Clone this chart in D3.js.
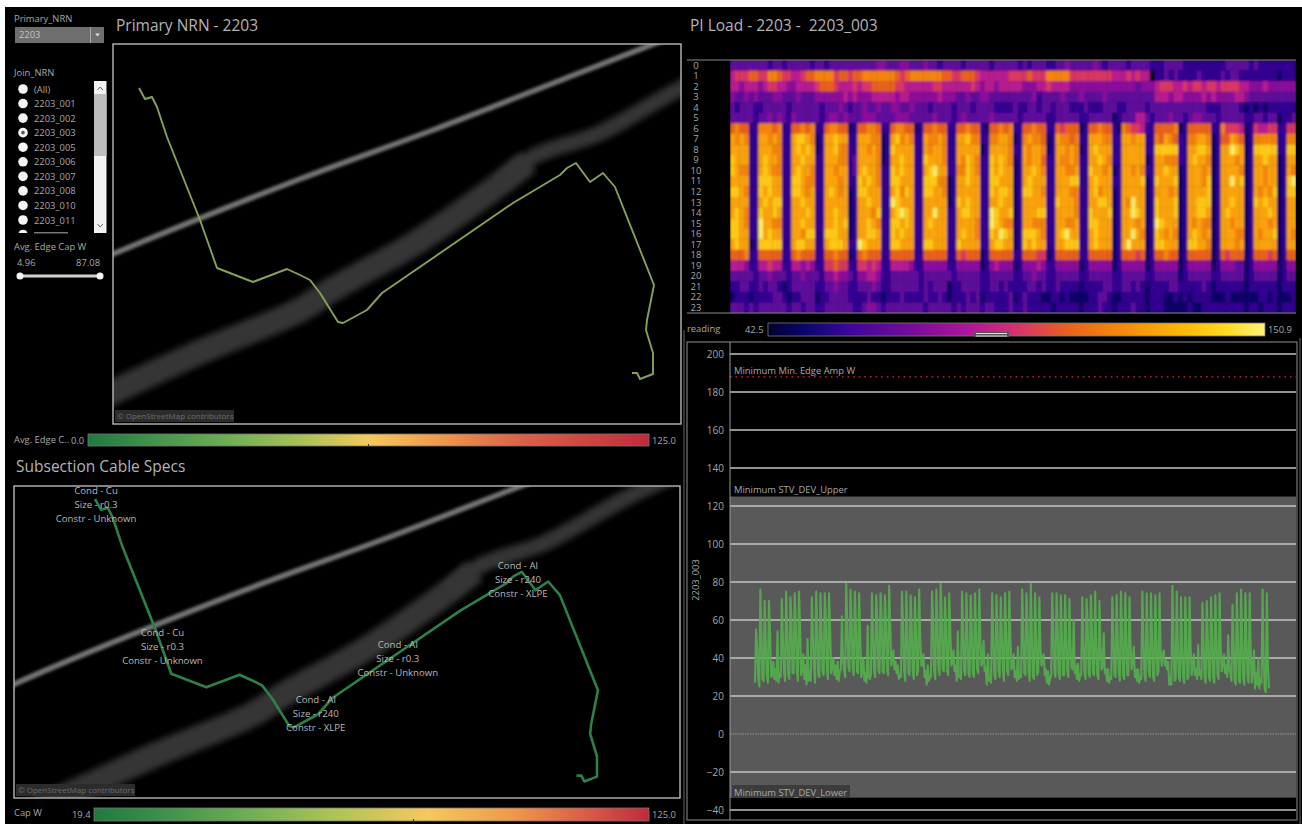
<!DOCTYPE html>
<html>
<head>
<meta charset="utf-8">
<title>Primary NRN - 2203</title>
<script src="https://cdn.jsdelivr.net/npm/d3@7"></script>
<style>
  html, body { margin: 0; padding: 0; background: #fff; }
  svg { display: block; font-family: "Open Sans", "Noto Sans", sans-serif; }
  text { white-space: pre; }
  .title { fill: #b4b4b4; font-size: 15.5px; }
  .lbl { fill: #a8a8a8; font-size: 9.4px; }
  .axis text { fill: #a6a6a6; font-size: 10px; font-family: "Open Sans", sans-serif; }
</style>
</head>
<body>
<svg id="board" width="1302" height="824"></svg>
<script>
// ── Data ─────────────────────────────────────────────────────────────────────
const joinNrn = ['(All)', '2203_001', '2203_002', '2203_003', '2203_005', '2203_006',
  '2203_007', '2203_008', '2203_010', '2203_011'];

// Map units (easting, southing) shared by both map panels
const routePath = [[139,88],[145,99],[152,97],[157,107],[167,137],[200,220],[217,268],[253,282],
  [287,269],[300,275],[310,280],[320,293],[338,322],[343,323],[367,310],[382,293],[513,203],
  [560,175],[567,168],[576,163],[590,182],[603,173],[615,187],[654,285],[647,320],[646,330],
  [653,353],[653,374],[640,379],[637,373],[632,373]];
const thinRoad = [[20,295],[113,254],[300,179],[433,130],[574,75],[720,18]];
const wideRoad = [[30,432],[113,392],[200,352],[300,310],[333,289],[417,242],[500,184],[528,162]];
const narrowRoad = [[500,184],[533,157],[600,133],[681,88],[770,46]];

const specCond = ['Cu', 'Cu', 'Al', 'Al', 'Al'];
const specSize = ['r0.3', 'r0.3', 'r0.3', 'r240', 'r240'];
const specConstr = ['Unknown', 'Unknown', 'Unknown', 'XLPE', 'XLPE'];
const specAt = [[140,79],[208,225],[449,238],[365,294],[572,156]];

// Reading per hour (rows) and day (columns), coded by readingLevels; "." = no reading.
// Groups are work days then weekend.
const hours = d3.range(0, 24);
const readingLevels = [50, 58, 68, 78, 88, 98, 108, 118, 127, 137, 149];
const readingRows = [
  '2222 22 22122 12 22221 22 12222 22 22223 32 22332 22 32212 22 21222 22 12222 21 21222 11 22322 22 23212 22 21222 21 11222 21 11111 11 12222 21 21111 11 11',
  '4555 66 55776 55 44566 77 77566 56 67777 77 76567 77 77776 65 56665 44 44445 55 56555 77 77755 55 55555 44 45454 4. 11212 11 11211 11 21221 11 11111 01 11',
  '4434 44 34554 43 34444 56 66544 45 45566 66 65544 44 44554 44 44454 34 43444 44 33344 54 44433 33 33333 33 33323 33 45554 45 45545 54 55554 43 33433 33 33',
  '3223 23 22233 22 23222 33 33334 34 33344 44 43443 33 33343 33 22322 33 22222 22 22312 22 23222 32 22232 22 22222 22 44434 43 33343 43 33344 32 22222 22 22',
  '2122 21 12222 21 22222 21 22232 12 23223 22 33223 22 21222 21 22212 22 21111 21 12212 21 22211 12 11122 21 12222 12 22222 22 22221 11 22221 01 01011 11 11',
  '2222 21 22323 21 32222 21 23323 22 23332 22 23332 22 22322 21 23222 22 32222 21 22222 11 22222 11 22222 01 22244 21 22232 21 23322 21 22222 11 22122 01 12',
  '6766 11 77767 11 66767 11 67766 01 66776 11 67766 01 66766 11 66766 10 66767 11 66766 11 65666 01 66766 10 76554 11 66667 01 66666 11 75554 01 54455 11 55',
  '8787 11 88787 11 89987 01 88988 11 88877 01 89787 11 87787 11 88977 11 77887 01 78776 01 87767 11 88877 11 88788 11 76876 11 77887 01 66876 01 77777 11 77',
  '8888 11 88877 11 89898 01 88977 11 88787 01 98888 11 87887 11 88888 01 88887 11 87887 01 88787 01 89888 11 88888 11 99999 11 88998 01 88a98 01 99999 11 99',
  '9888 11 89887 11 88988 11 88877 12 88887 01 88988 11 98887 11 87987 11 98987 01 87886 11 87787 11 88987 11 88888 01 88777 11 89887 01 88878 01 88988 01 88',
  '9877 11 89877 11 89887 11 88788 12 89887 11 98988 11 89a88 11 77987 11 98988 01 88987 11 88778 11 98878 01 88787 11 88988 01 88878 01 88887 01 88788 01 87',
  '8888 11 99988 11 99877 11 88878 11 98987 11 99888 11 99977 01 88988 11 99888 01 89888 11 88899 11 89888 11 88889 01 98889 01 88879 01 88a89 01 88788 01 9a',
  '9987 11 98988 11 99878 11 89878 01 99888 11 89798 11 99887 01 88888 11 98998 01 99887 11 88877 11 89788 01 88888 01 88878 01 88889 01 88888 01 87879 01 99',
  '8888 11 89899 11 88988 11 88888 01 88988 11 a9888 11 88888 01 98988 11 88988 01 88888 11 98887 11 88998 01 87a88 01 98889 01 88999 01 88988 01 98988 01 88',
  '8987 11 98898 11 88898 11 88988 01 88879 11 89a98 11 88a88 11 89988 11 a9889 01 88899 11 88887 11 98889 01 88a98 01 98889 01 88998 01 89888 01 88898 01 88',
  '9987 11 a8877 11 88988 11 88989 01 88987 11 99898 11 89888 11 88887 11 a9877 01 88777 11 88778 11 99888 01 88878 01 a9888 01 87877 01 88788 01 88878 01 88',
  '9988 11 a8988 11 88799 11 99988 01 88998 11 98988 11 88888 11 89887 11 98a98 01 99987 11 89a88 11 89888 01 88a87 01 98787 01 89878 01 88877 01 87889 01 87',
  '8988 01 99999 11 89988 11 89998 11 a9888 11 99888 11 99888 11 98888 11 89988 01 98988 11 88999 11 89888 01 8a888 01 99888 01 99887 01 88878 01 88888 01 88',
  '6667 11 66666 11 67666 11 66766 01 67666 11 66666 11 66666 11 65666 01 66666 11 66655 01 66666 11 66666 01 66656 01 66766 01 66666 01 65666 01 66656 01 66',
  '4443 11 44544 11 44343 11 55655 11 55454 11 44443 11 33333 11 33333 01 34333 01 33343 11 33333 01 33333 01 33333 01 33333 01 33333 01 33322 01 33333 01 33',
  '2222 21 22322 21 22322 21 33433 21 33443 11 22222 21 22222 21 22222 11 22222 11 22322 11 22222 11 22222 11 22222 11 22222 01 22222 11 22222 01 22222 01 22',
  '1122 11 21221 01 22222 11 22322 11 22232 11 22222 21 21222 01 12222 11 22121 11 12212 11 21111 01 11122 11 22121 01 11122 11 11121 01 11111 01 11111 01 11',
  '0111 01 11122 10 11222 01 12222 11 11211 01 11211 11 21121 01 11212 01 11112 01 21110 01 10100 00 11221 00 11111 01 11001 01 01111 00 01000 00 01101 00 01',
  '2221 21 22222 21 22122 11 22222 21 12332 12 22222 22 12222 21 21222 12 21112 11 21111 10 11111 01 11211 01 11211 01 11000 00 10011 11 11111 01 10111 01 11'
];

// Load through the period, four readings a day, one line per week
const loadSeries = [
  27,55,46,30, 25,76,52,29, 28,70,48,31, 27,70,54,30, 31,38,29,34, 28,54,27,32,
  30,71,50,33, 28,75,55,31, 29,72,60,32, 32,74,58,33, 28,75,56,31, 33,42,29,36, 26,50,28,33,
  28,72,52,35, 27,75,56,31, 30,74,54,33, 31,74,60,34, 29,74,55,32, 35,40,31,36, 29,38,28,33,
  34,62,40,34, 30,79,58,36, 33,76,60,35, 31,75,58,33, 32,74,52,30, 33,40,28,32, 27,57,30,29,
  31,74,54,33, 30,73,60,34, 32,74,62,33, 32,73,60,34, 31,78,58,36, 40,44,34,38, 32,36,29,31,
  30,75,56,33, 28,75,54,32, 31,73,56,33, 29,72,54,31, 33,76,50,36, 36,42,30,33, 26,36,28,30,
  30,75,60,33, 29,76,58,35, 31,79,60,34, 33,72,56,33, 31,74,54,36, 38,44,33,36, 28,54,30,30,
  29,75,54,33, 31,74,52,32, 30,73,55,32, 30,74,54,34, 32,76,50,36, 38,49,33,35, 26,42,28,30,
  27,74,52,32, 29,73,55,33, 30,72,52,34, 28,74,54,33, 31,75,50,34, 36,42,30,33, 28,46,29,31,
  30,76,55,32, 31,74,57,33, 28,79,52,30, 29,74,50,31, 33,72,46,36, 40,42,31,34, 27,33,26,29,
  31,74,54,33, 30,74,56,32, 29,73,52,31, 31,73,50,33, 30,71,47,35, 34,60,32,36, 29,37,28,31,
  31,72,50,33, 29,71,58,32, 30,73,55,32, 31,75,48,31, 29,70,46,34, 36,53,32,34, 28,34,27,30,
  29,72,52,31, 30,73,50,32, 28,75,55,31, 29,74,52,31, 31,72,46,34, 38,46,30,34, 28,34,27,30,
  29,75,50,31, 28,74,48,33, 30,74,52,30, 28,73,50,31, 33,74,44,36, 42,44,36,39, 34,38,26,30,
  26,78,50,28, 29,75,48,30, 28,72,46,30, 27,72,50,29, 30,72,44,31, 36,42,31,34, 29,47,31,33,
  29,69,48,30, 27,70,50,30, 28,72,52,30, 27,73,50,31, 29,74,44,33, 38,42,32,36, 30,52,34,32,
  28,68,48,28, 26,74,50,28, 27,76,48,29, 26,74,50,30, 27,74,42,27, 34,44,24,32, 26,40,24,29,
  27,76,40,24, 22,74,36,24
];
const loadTicks = d3.range(-40, 201, 20);
const minEdgeAmp = 188;
const stvUpper = 125;
const stvLower = -33.5;

// Colour ramps
const heatStops = [42.5, 51, 60, 72, 86, 97, 107.5, 120.5, 134.6, 143, 150.9];
const heatColors = ['#00002e', '#0b0670', '#3c069a', '#6f0a9c', '#b0149a', '#d6336b', '#e8601f',
  '#f78c0a', '#ffbe0a', '#ffdc28', '#fff27a'];
const capOffsets = [0, 0.1, 0.25, 0.38, 0.5, 0.62, 0.78, 1];
const capColors = ['#1f7a3f', '#3d8f4c', '#6fae55', '#a8c257', '#f4c95d', '#f09a4c', '#dc5f48', '#bf2a3c'];
const capOffsets2 = [0, 0.12, 0.28, 0.42, 0.6, 0.75, 0.88, 1];

// ── Setup ────────────────────────────────────────────────────────────────────
const svg = d3.select('#board');
const defs = svg.append('defs');
svg.append('rect').attr('x', 5).attr('y', 7).attr('width', 1297).attr('height', 817).attr('fill', '#000');

function blur(id, sd) {
  defs.append('filter').attr('id', id).attr('x', '-5%').attr('y', '-20%').attr('width', '110%').attr('height', '140%')
    .append('feGaussianBlur').attr('stdDeviation', sd);
}
blur('soft', 0.55);
blur('heatBlur', 0.8);
blur('thinBlur', 1.7);
blur('wideBlur', 3);

// text helper: dy lifts Open Sans' middle baseline onto the reference's line centres
const txt = (x, y, s, cls, anchor) => svg.append('text')
  .attr('class', cls || 'lbl').attr('x', x).attr('y', y + 1.3)
  .attr('dominant-baseline', 'middle').attr('text-anchor', anchor || 'start').text(s);

function gradient(id, offsets, colors) {
  const g = defs.append('linearGradient').attr('id', id);
  offsets.forEach((o, i) => g.append('stop').attr('offset', o).attr('stop-color', colors[i]));
}

txt(116, 26, 'Primary NRN - 2203', 'title');
txt(690, 26, 'PI Load - 2203 -  2203_003', 'title');
txt(16, 467, 'Subsection Cable Specs', 'title');

// ── Filter controls ──────────────────────────────────────────────────────────
txt(14, 18, 'Primary_NRN');
svg.append('rect').attr('x', 15).attr('y', 27).attr('width', 89).attr('height', 16).attr('fill', '#6e6e6e');
svg.append('rect').attr('x', 90).attr('y', 27).attr('width', 1).attr('height', 16).attr('fill', '#aaa');
svg.append('path').attr('d', 'M95 33.5h5l-2.5 3z').attr('fill', '#ddd');
txt(19, 34, '2203', 'lbl').style('fill', '#c4c4c4');

txt(14, 72, 'Join_NRN');
const yList = d3.scalePoint().domain(joinNrn).range([89, 220]);
const listRows = svg.append('g').selectAll('g').data(joinNrn).join('g');
listRows.append('circle').attr('cx', 23).attr('cy', d => yList(d)).attr('r', 4.8).attr('fill', '#f4f4f4');
listRows.append('text').attr('class', 'lbl').attr('x', 34).attr('y', d => yList(d) + 1)
  .attr('dominant-baseline', 'middle').text(d => d);
svg.append('circle').attr('cx', 23).attr('cy', yList('2203_003')).attr('r', 1.8).attr('fill', '#555');
// half hidden row under the list
svg.append('path').attr('d', 'M18.5 233a4.8 4.8 0 0 1 9 0z').attr('fill', '#f4f4f4');
svg.append('rect').attr('x', 34).attr('y', 232).attr('width', 34).attr('height', 1.5).attr('fill', '#777');

svg.append('rect').attr('x', 94).attr('y', 81).attr('width', 12.5).attr('height', 152).attr('fill', '#f2f2f2');
svg.append('rect').attr('x', 94).attr('y', 94).attr('width', 12.5).attr('height', 62).attr('fill', '#bdbdbd');
svg.append('path').attr('d', 'M97.5 90l2.7-3 2.7 3M97.5 224l2.7 3 2.7-3').attr('fill', 'none').attr('stroke', '#666');

txt(14, 246, 'Avg. Edge Cap W');
txt(17, 262, '4.96');
txt(100, 262, '87.08', 'lbl', 'end');
svg.append('rect').attr('x', 20).attr('y', 274.5).attr('width', 80).attr('height', 3).attr('fill', '#cfcfcf');
[20, 100].forEach(x => svg.append('circle').attr('cx', x).attr('cy', 276).attr('r', 3.5).attr('fill', '#f4f4f4'));

// ── Map panels ───────────────────────────────────────────────────────────────
function mapPanel(id, box, domX, domY, routeColor, routeWidth) {
  const x = d3.scaleLinear().domain(domX).range([box.x0, box.x1]);
  const y = d3.scaleLinear().domain(domY).range([box.y0, box.y1]);
  const line = d3.line().x(d => x(d[0])).y(d => y(d[1]));
  const road = d3.line().x(d => x(d[0])).y(d => y(d[1])).curve(d3.curveCatmullRom);

  defs.append('clipPath').attr('id', id)
    .append('rect').attr('x', box.x0).attr('y', box.y0)
    .attr('width', box.x1 - box.x0).attr('height', box.y1 - box.y0);

  const g = svg.append('g').attr('clip-path', `url(#${id})`);
  g.append('path').attr('d', road(wideRoad)).attr('fill', 'none').attr('stroke', '#343434')
    .attr('stroke-width', 25).attr('filter', 'url(#wideBlur)');
  g.append('path').attr('d', road(narrowRoad)).attr('fill', 'none').attr('stroke', '#343434')
    .attr('stroke-width', 16).attr('filter', 'url(#wideBlur)');
  g.append('path').attr('d', road(thinRoad)).attr('fill', 'none').attr('stroke', '#767676')
    .attr('stroke-width', 5.5).attr('filter', 'url(#thinBlur)');
  g.append('path').attr('d', line(routePath)).attr('fill', 'none').attr('stroke', routeColor)
    .attr('stroke-width', routeWidth).attr('stroke-linejoin', 'round').attr('filter', 'url(#soft)');

  svg.append('rect').attr('x', box.x0).attr('y', box.y0)
    .attr('width', box.x1 - box.x0).attr('height', box.y1 - box.y0)
    .attr('fill', 'none').attr('stroke', '#b8b8b8').attr('stroke-width', 1.4);

  svg.append('rect').attr('x', box.x0 + 2).attr('y', box.y1 - 14).attr('width', 119).attr('height', 12).attr('fill', '#2c2c2c');
  svg.append('text').attr('x', box.x0 + 4).attr('y', box.y1 - 7.5).attr('dominant-baseline', 'middle')
    .attr('font-size', 8).attr('fill', '#6c6c6c').text('© OpenStreetMap contributors');
  return { x, y };
}

mapPanel('mapA', { x0: 113, x1: 681, y0: 44, y1: 424 }, [113, 681], [44, 424], '#86a259', 1.9);
const mapB = mapPanel('mapB', { x0: 14, x1: 680, y0: 486, y1: 798 }, [56, 738], [74.6, 396], '#2f8048', 2.6);

// cable spec labels sit on the lower map
specAt.forEach((p, i) => {
  const lines = [`Cond - ${specCond[i]}`, `Size - ${specSize[i]}`, `Constr - ${specConstr[i]}`];
  lines.forEach((s, j) => svg.append('text')
    .attr('x', mapB.x(p[0])).attr('y', mapB.y(p[1]) + j * 14 + 1)
    .attr('text-anchor', 'middle').attr('dominant-baseline', 'middle')
    .attr('font-size', 9.6).attr('fill', '#b9b9b9').text(s));
});

// ── Cap legends ──────────────────────────────────────────────────────────────
gradient('capA', capOffsets, capColors);
gradient('capB', capOffsets2, capColors);

txt(14, 439, 'Avg. Edge C..');
txt(71, 440, '0.0');
svg.append('rect').attr('x', 88).attr('y', 434).attr('width', 561).attr('height', 12).attr('fill', 'url(#capA)').attr('stroke', '#777').attr('stroke-width', 0.8);
svg.append('rect').attr('x', 368).attr('y', 444).attr('width', 1).attr('height', 3).attr('fill', '#333');
txt(652, 440, '125.0');

txt(14, 812, 'Cap W');
txt(72, 814, '19.4');
svg.append('rect').attr('x', 94).attr('y', 808).attr('width', 555).attr('height', 13).attr('fill', 'url(#capB)').attr('stroke', '#777').attr('stroke-width', 0.8);
svg.append('rect').attr('x', 413).attr('y', 819).attr('width', 1).attr('height', 3).attr('fill', '#333');
txt(652, 814, '125.0');

// ── Heatmap ──────────────────────────────────────────────────────────────────
const rows = readingRows.map(r => r.replace(/ /g, ''));
const days = d3.range(rows[0].length);
const xHeat = d3.scaleBand().domain(days).range([730, 1296]);
const yHeat = d3.scaleBand().domain(hours).range([60, 313]);
const heatColor = d3.scaleLinear().domain(heatStops).range(heatColors).interpolate(d3.interpolateRgb);

defs.append('clipPath').attr('id', 'heatClip').append('rect')
  .attr('x', 730).attr('y', 60).attr('width', 566).attr('height', 253);

const cells = rows.flatMap((r, h) => days.map(d => ({ h, d, c: r[d] })));
svg.append('g').attr('clip-path', 'url(#heatClip)')
  .append('g').attr('filter', 'url(#heatBlur)').selectAll('rect').data(cells).join('rect')
  .attr('x', d => xHeat(d.d)).attr('y', d => yHeat(d.h))
  .attr('width', xHeat.bandwidth() + 0.3).attr('height', yHeat.bandwidth() + 0.3)
  .attr('fill', d => d.c === '.' ? '#000' : heatColor(readingLevels[parseInt(d.c, 11)]));

hours.forEach(h => txt(696, yHeat(h) + yHeat.bandwidth() / 2 - 0.6, h, 'lbl', 'middle').style('font-size', '9.5px'));
[60, 313].forEach(y => svg.append('rect').attr('x', 687).attr('y', y - 0.5).attr('width', 609).attr('height', 1).attr('fill', '#8a8a8a'));

// reading legend
gradient('heatRamp', heatStops.map(v => (v - 42.5) / (150.9 - 42.5)), heatColors);
txt(687, 328, 'reading');
txt(745, 329, '42.5');
svg.append('rect').attr('x', 768).attr('y', 323).attr('width', 497).attr('height', 13).attr('fill', 'url(#heatRamp)').attr('stroke', '#777').attr('stroke-width', 0.8);
txt(1268, 329, '150.9');
svg.append('rect').attr('x', 974).attr('y', 332).attr('width', 35).attr('height', 5).attr('fill', '#555');
[333, 335.5].forEach(y => svg.append('rect').attr('x', 976).attr('y', y).attr('width', 31).attr('height', 1).attr('fill', '#ddd'));

// ── Load line ────────────────────────────────────────────────────────────────
const yLoad = d3.scaleLinear().domain([-40, 200]).range([810, 354]);
const xLoad = d3.scaleLinear().domain([0, loadSeries.length - 1]).range([755, 1269]);

svg.append('rect').attr('x', 730).attr('width', 566).attr('y', yLoad(stvUpper))
  .attr('height', yLoad(stvLower) - yLoad(stvUpper)).attr('fill', '#595959');

svg.append('g').selectAll('line').data(loadTicks).join('line')
  .attr('x1', 730).attr('x2', 1296)
  .attr('y1', d => yLoad(d)).attr('y2', d => yLoad(d))
  .attr('stroke', d => d === 0 ? '#9a9a9a' : '#c4c4c4')
  .attr('stroke-width', d => d === 0 ? 1 : 1.3)
  .attr('stroke-dasharray', d => d === 0 ? '1.5,1' : null);

svg.append('g').attr('class', 'axis').attr('transform', 'translate(730,0)')
  .call(d3.axisLeft(yLoad).tickValues(loadTicks).tickSize(0).tickPadding(6))
  .call(a => a.select('.domain').remove());

svg.append('line').attr('x1', 730).attr('x2', 1296).attr('y1', yLoad(minEdgeAmp)).attr('y2', yLoad(minEdgeAmp))
  .attr('stroke', '#b3202c').attr('stroke-width', 1.6).attr('stroke-dasharray', '1.6,4');

svg.append('path').datum(loadSeries)
  .attr('d', d3.line().x((d, i) => xLoad(i)).y(d => yLoad(d)))
  .attr('fill', 'none').attr('stroke', '#56ad50').attr('stroke-width', 2.1)
  .attr('stroke-linejoin', 'round').attr('opacity', 0.92).attr('filter', 'url(#soft)');

txt(734, 370, 'Minimum Min. Edge Amp W');
txt(734, 489, 'Minimum STV_DEV_Upper');
svg.append('rect').attr('x', 732).attr('y', 785).attr('width', 118).attr('height', 13).attr('fill', '#3c3c3c');
txt(734, 792, 'Minimum STV_DEV_Lower');

svg.append('text').attr('transform', 'translate(696,580) rotate(-90)').attr('class', 'lbl')
  .attr('text-anchor', 'middle').attr('dominant-baseline', 'middle').text('2203_003');

// panel frame
svg.append('rect').attr('x', 687).attr('y', 342).attr('width', 610).attr('height', 478)
  .attr('fill', 'none').attr('stroke', '#777').attr('stroke-width', 1.2);
svg.append('line').attr('x1', 730).attr('x2', 730).attr('y1', 342).attr('y2', 820).attr('stroke', '#999').attr('stroke-width', 1);
svg.append('line').attr('x1', 1300).attr('x2', 1300).attr('y1', 338).attr('y2', 824).attr('stroke', '#666').attr('stroke-width', 1);
svg.append('line').attr('x1', 684).attr('x2', 684).attr('y1', 330).attr('y2', 824).attr('stroke', '#666').attr('stroke-width', 1);
</script>
</body>
</html>
